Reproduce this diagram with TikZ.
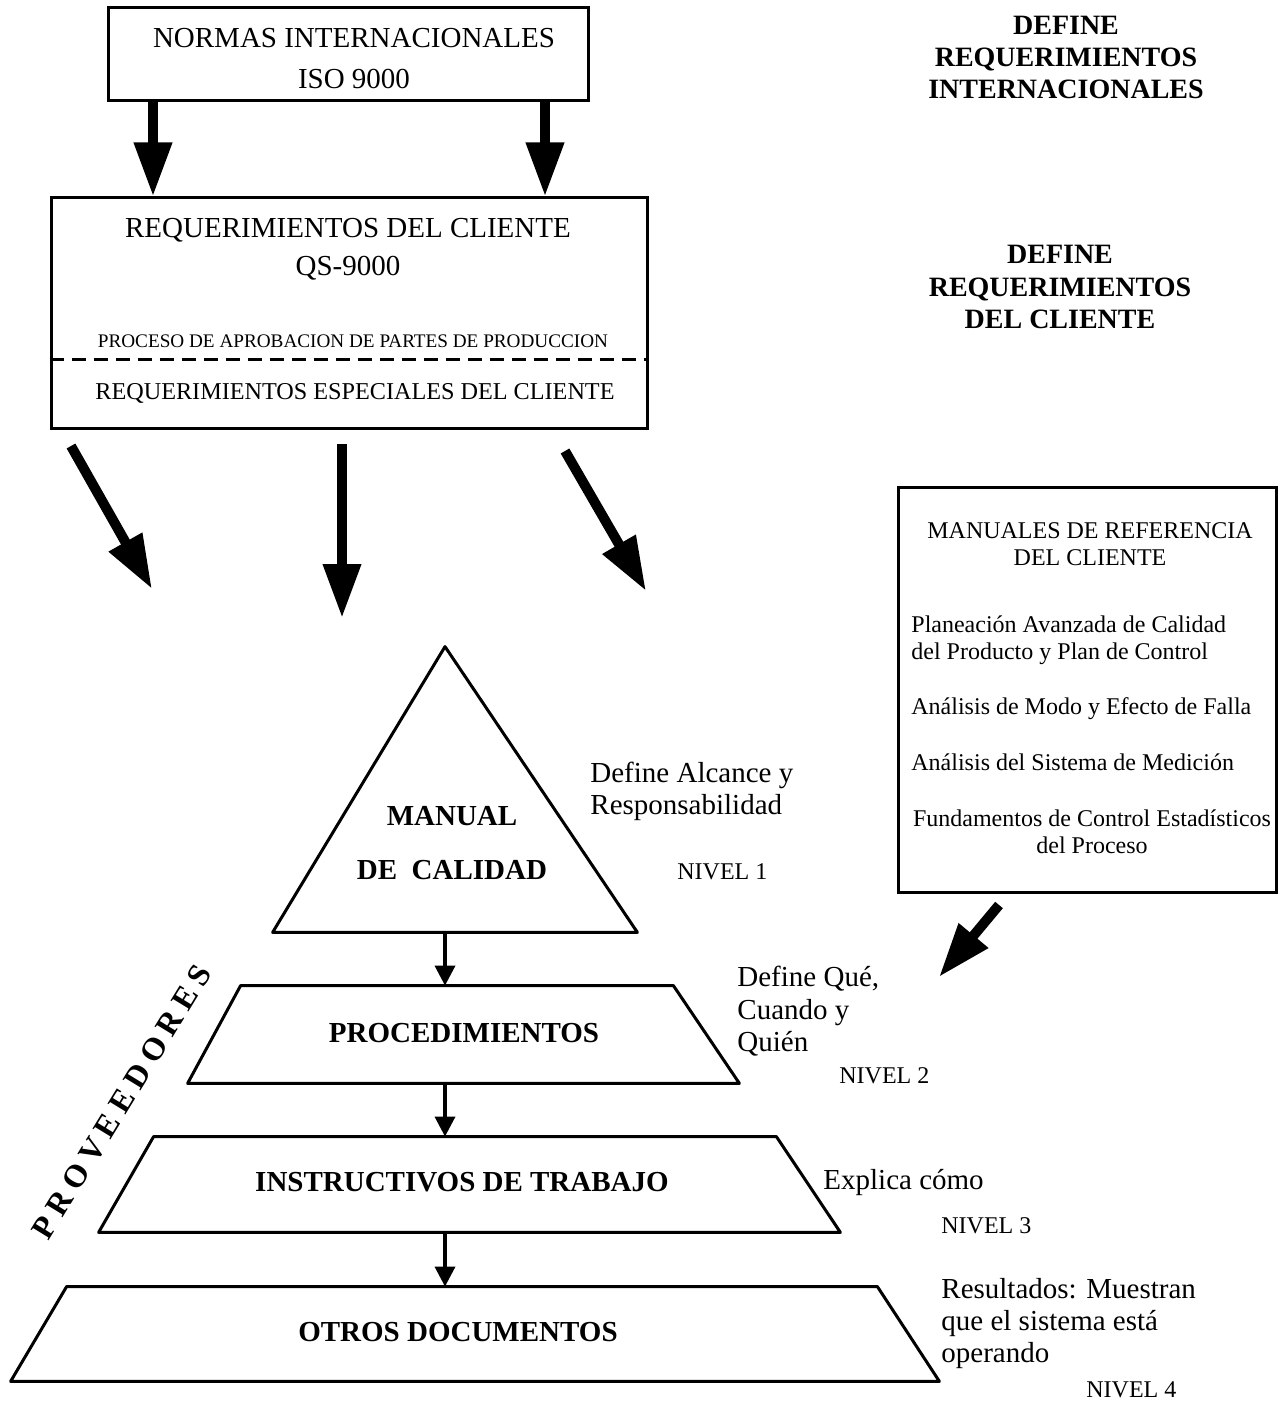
\documentclass[tikz,border=0pt]{standalone}
\usepackage{fontspec}
\setmainfont{Liberation Serif}
\usetikzlibrary{arrows.meta}

\begin{document}
\begin{tikzpicture}[x=0.5pt, y=-0.5pt, every node/.style={inner sep=0pt, font=\fontsize{14.5}{17}\selectfont},
	caja/.style={draw, line width=1.5pt, inner sep=0pt},
	nivel/.style={inner sep=0pt},
	grande/.style={line width=5pt, -{Triangle[length=27pt, width=18pt]}},
	chica/.style={line width=1.75pt, -{Triangle[length=10pt, width=10pt]}},
	rotulo/.style={font=\bfseries\fontsize{14.5}{16}\selectfont, align=center},
	nota/.style={anchor=west, align=left, font=\fontsize{14.5}{16.2}\selectfont},
	nv/.style={anchor=west, font=\fontsize{12}{14}\selectfont},
	manitem/.style={anchor=west, align=left, font=\fontsize{12}{13.5}\selectfont}]
	\useasboundingbox (0,0) rectangle (1282,1401);
	\node[caja, minimum width=240pt, minimum height=46.5pt] (normas) at (348,54.5) {};
	\node[align=center, font=\fontsize{14.5}{20.5}\selectfont] (normastxt) at (354,58.5) {NORMAS INTERNACIONALES\\ISO 9000};
	\node[caja, minimum width=298pt, minimum height=115pt] (cliente) at (349,313) {};
	\node[align=center, font=\fontsize{14.5}{19}\selectfont] (clientetxt) at (348,249) {REQUERIMIENTOS DEL CLIENTE\\QS-9000};
	\node[font=\fontsize{9.6}{11}\selectfont] (ppap) at (353,341) {PROCESO DE APROBACION DE PARTES DE PRODUCCION};
	\coordinate (corte) at (0,359);
	\draw[line width=1.5pt, dash pattern=on 7pt off 4pt] (cliente.west |- corte) -- (cliente.east |- corte);
	\node[font=\fontsize{12.1}{14}\selectfont] (especiales) at (355,393) {REQUERIMIENTOS ESPECIALES DEL CLIENTE};
	\coordinate (colA) at (153,0);
	\coordinate (colB) at (545,0);
	\foreach \c in {colA, colB} {\draw[grande] (normas.south -| \c) -- (cliente.north -| \c);}
	\coordinate (sA) at (71,446);
	\coordinate (sB) at (342,444);
	\coordinate (sC) at (565,451);
	\coordinate (pA) at (152,589);
	\coordinate (pB) at (342,618);
	\coordinate (pC) at (646,591);
	\foreach \s/\p in {sA/pA, sB/pB, sC/pC} {\draw[grande] (\s) -- (\p);}
	\node[align=center, font=\bfseries\fontsize{14}{16}\selectfont] (defint) at (1066,57) {DEFINE\\REQUERIMIENTOS\\INTERNACIONALES};
	\node[align=center, font=\bfseries\fontsize{14}{16.25}\selectfont] (defcli) at (1060,287) {DEFINE\\REQUERIMIENTOS\\DEL CLIENTE};
	\node[caja, minimum width=189pt, minimum height=202.5pt] (manref) at (1087,689.5) {};
	\node[align=center, font=\fontsize{12}{13.5}\selectfont] (manreftit) at (1090,544.5) {MANUALES DE REFERENCIA\\DEL CLIENTE};
	\node[manitem] (apqp) at (911,640.5) {Planeación Avanzada de Calidad\\del Producto y Plan de Control};
	\node[manitem] (amef) at (911,709) {Análisis de Modo y Efecto de Falla};
	\node[manitem] (msa) at (911,762) {Análisis del Sistema de Medición};
	\node[align=center, font=\fontsize{12}{13.5}\selectfont] (spc) at (1092,831.5) {Fundamentos de Control Estadísticos\\del Proceso};
	\coordinate (mA) at (999,905);
	\coordinate (mB) at (939,977);
	\draw[grande] (mA) -- (mB);
	\coordinate (eje) at (445,0);
	\node[nivel, minimum width=182pt, minimum height=142.5pt] (manual) at (455,789.5) {};
	\draw[line width=1.5pt, line join=round] (manual.south west) -- (manual.south east) -- (manual.north -| eje) -- cycle;
	\node[align=center, font=\bfseries\fontsize{14.5}{27}\selectfont] (manualtxt) at (452,843) {MANUAL\\DE\ \ CALIDAD};
	\foreach \n/\x/\y/\w/\h/\l/\r in {proc/463.5/1034.5/275.5/48.5/26.5/33, instr/469.5/1184.5/370.5/47.5/27.5/32, otros/475/1334/464/47/28/31} {
		\node[nivel, minimum width=\w pt, minimum height=\h pt] (\n) at (\x,\y) {};
		\draw[line width=1.5pt, line join=round] (\n.south west) -- (\n.south east) -- ([xshift=-\r pt]\n.north east) -- ([xshift=\l pt]\n.north west) -- cycle;
	}
	\node[rotulo] (proctxt) at (464,1033) {PROCEDIMIENTOS};
	\node[rotulo] (instrtxt) at (462,1182) {INSTRUCTIVOS DE TRABAJO};
	\node[rotulo] (otrostxt) at (458,1332) {OTROS DOCUMENTOS};
	\foreach \a/\b in {manual/proc, proc/instr, instr/otros} {\draw[chica] (\a.south -| eje) -- (\b.north -| eje);}
	\node[rotate=58.5, font=\bfseries\fontsize{16}{18}\selectfont\addfontfeature{LetterSpace=22}] (prov) at (122,1102) {PROVEEDORES};
	\node[nota] (alcance) at (590,791.5) {Define Alcance y\\Responsabilidad};
	\node[nv] (n1) at (677,872) {NIVEL 1};
	\node[nota] (que) at (737,1011.5) {Define Qué,\\Cuando y\\Quién};
	\node[nv] (n2) at (839,1076) {NIVEL 2};
	\node[nota] (como) at (823,1182) {Explica cómo};
	\node[nv] (n3) at (941,1226) {NIVEL 3};
	\node[nota] (result) at (941,1323.5) {Resultados: Muestran\\que el sistema está\\operando};
	\node[nv] (n4) at (1086,1390) {NIVEL 4};
\end{tikzpicture}
\end{document}
